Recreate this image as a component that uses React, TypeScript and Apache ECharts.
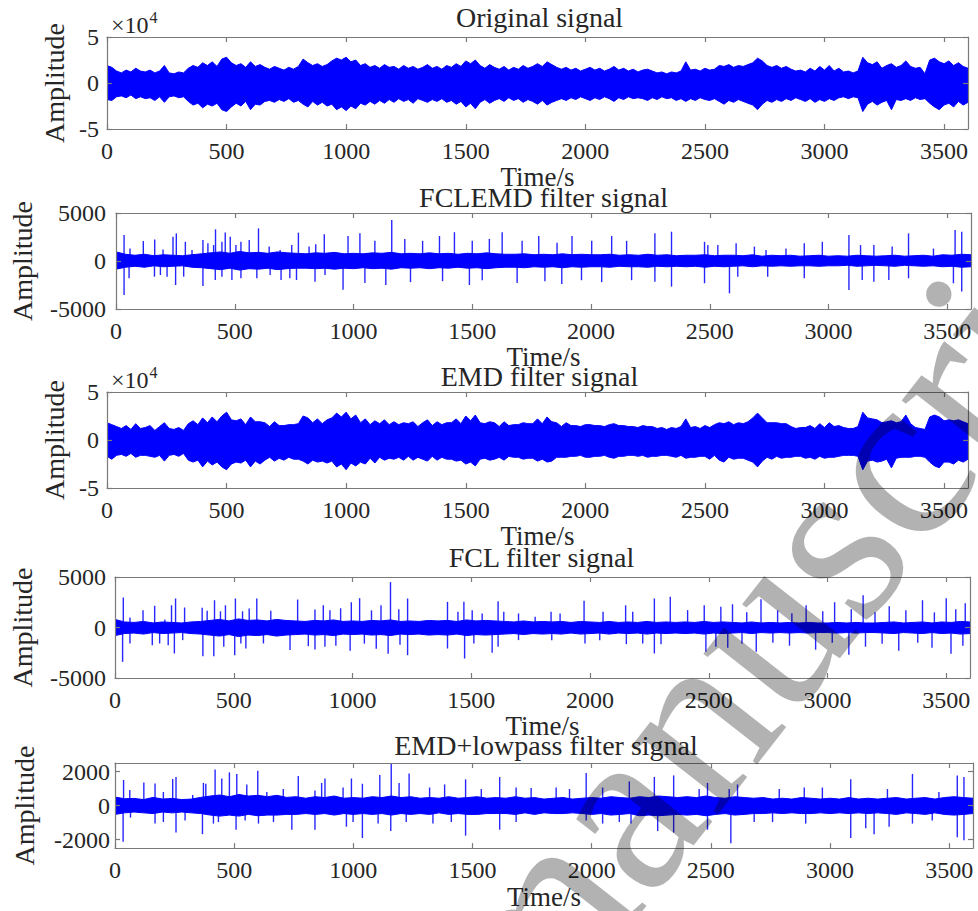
import React, { useEffect, useRef } from "react";
import * as echarts from "echarts";

// ---------------- data ----------------
const titles = [
  "Original signal",
  "FCLEMD filter signal",
  "EMD filter signal",
  "FCL filter signal",
  "EMD+lowpass filter signal",
];
const xName = "Time/s";
const yName = "Amplitude";
const timeMax = 3600;
const xTickValues = [0, 500, 1000, 1500, 2000, 2500, 3000, 3500];
const yTicksE4 = [-5, 0, 5]; // ×10^4
const yTicks5000 = [-5000, 0, 5000];
const yTicks2000 = [-2000, 0, 2000];

// Original signal, units of 1e4, envelope every 20 s
const step20 = 20;
const orig_up = [
  1.9, 1.7, 1.3, 1.1, 1.4, 1.2, 1.6, 1.3, 1.2, 1.4,
  1.1, 1.3, 1.9, 1.1, 1.0, 1.2, 1.1, 1.6, 1.9, 1.7,
  2.2, 1.9, 2.3, 1.8, 2.6, 2.8, 2.2, 1.9, 2.1, 1.7,
  2.3, 1.8, 2.0, 1.7, 1.5, 1.8, 1.6, 1.4, 1.7, 1.5,
  1.8, 2.6, 2.2, 1.9, 2.1, 1.8, 2.0, 2.4, 2.7, 2.5,
  2.8, 2.3, 2.5, 1.9, 2.1, 1.7, 1.9, 1.6, 2.0, 1.7,
  1.8, 1.5, 1.9, 1.6, 1.8, 1.5, 1.7, 2.0, 1.6, 1.8,
  1.5, 1.9, 1.7, 2.1, 1.8, 2.4, 2.1, 2.5, 1.9, 1.6,
  2.0, 1.7, 1.5, 1.8, 1.4, 1.7, 1.5, 1.9, 1.6, 1.8,
  2.1, 1.8, 2.3, 2.0, 1.7, 1.5, 1.7, 1.4, 1.6, 1.3,
  1.5, 1.7, 1.4, 1.6, 1.3, 1.5, 1.8, 1.4, 1.6, 1.3,
  1.5, 1.2, 1.4, 1.5, 1.3, 1.1, 1.2, 1.0, 1.2, 1.1,
  1.3, 2.3, 1.4, 1.5, 1.3, 1.6, 1.4, 1.5, 1.9, 1.8,
  2.0, 1.7, 1.9, 1.8, 2.0, 2.2, 2.7, 2.4, 1.9, 1.7,
  1.9, 1.6, 1.8, 1.5, 1.3, 1.4, 1.2, 1.6, 1.3, 1.8,
  1.4, 1.9, 1.3, 1.6, 1.2, 1.3, 1.1, 1.3, 2.8, 2.2,
  2.0, 2.3, 1.6, 1.9, 2.1, 1.7, 1.9, 2.4, 1.8, 1.6,
  1.7, 1.0, 2.5, 2.7, 2.3, 2.1, 2.4, 1.9, 2.2, 1.8,
  1.6,
];
const orig_lo = [
  -1.8, -1.9, -1.5, -1.4, -1.6, -1.3, -1.7, -1.5, -1.7, -1.6,
  -1.9, -1.5, -2.1, -1.5, -1.4, -1.6, -1.5, -2.0, -2.4, -2.2,
  -2.7, -2.3, -2.5, -2.2, -2.9, -3.1, -2.6, -2.2, -2.5, -2.0,
  -2.9, -2.3, -2.4, -2.0, -1.9, -2.1, -1.8, -2.0, -1.7, -2.1,
  -1.9, -2.3, -2.6, -2.0, -2.4, -2.1, -2.5, -2.3, -2.9, -2.6,
  -3.0, -2.5, -2.8, -2.2, -2.4, -2.0, -2.3, -1.9, -2.2, -1.8,
  -2.1, -1.7, -2.0, -1.8, -2.2, -1.7, -1.9, -2.1, -1.8, -2.0,
  -1.7, -2.1, -1.9, -2.3, -2.0, -2.6, -2.2, -2.8, -2.1, -1.8,
  -2.2, -1.9, -1.7, -2.0, -1.6, -1.9, -1.7, -2.1, -1.8, -2.0,
  -2.3, -1.9, -2.4, -2.1, -1.9, -1.7, -1.9, -1.6, -1.8, -1.5,
  -1.7, -1.9, -1.6, -1.8, -1.5, -1.7, -2.0, -1.6, -1.8, -1.5,
  -1.7, -1.6, -1.7, -1.9, -1.6, -1.8, -1.5, -1.7, -1.6, -1.9,
  -1.7, -2.0, -1.7, -1.9, -1.6, -1.8, -1.9, -1.7, -2.0, -2.3,
  -1.9, -2.1, -1.8, -2.0, -2.2, -2.4, -2.9, -2.3, -1.9, -2.1,
  -1.8, -2.0, -1.7, -1.9, -1.6, -1.8, -2.0, -1.7, -2.1, -1.8,
  -2.0, -1.7, -1.9, -1.6, -1.5, -1.7, -1.5, -1.6, -3.1, -2.3,
  -2.0, -2.4, -2.1, -1.9, -2.9, -1.8, -1.9, -1.7, -1.9, -1.6,
  -1.8, -1.7, -2.2, -2.6, -2.9, -2.4, -2.2, -2.6, -2.0, -2.4,
  -2.1,
];

// EMD filter signal, units of 1e4, envelope every 20 s
const emd_up = [
  1.8, 1.6, 1.4, 1.2, 1.5, 1.1, 1.7, 1.2, 1.3, 1.5,
  1.0, 1.4, 1.8, 1.2, 1.1, 1.3, 1.0, 1.7, 2.0, 1.6,
  2.3, 1.8, 2.4, 1.9, 2.5, 2.9, 2.1, 2.0, 2.2, 1.6,
  2.4, 1.9, 1.9, 1.8, 1.4, 1.9, 1.5, 1.5, 1.6, 1.6,
  1.7, 2.5, 2.3, 1.8, 2.2, 1.7, 2.1, 2.3, 2.8, 2.4,
  2.9, 2.2, 2.6, 1.8, 2.2, 1.6, 2.0, 1.7, 2.1, 1.6,
  1.9, 1.6, 1.8, 1.7, 1.9, 1.4, 1.8, 2.1, 1.5, 1.9,
  1.6, 1.8, 1.8, 2.2, 1.7, 2.5, 2.0, 2.6, 1.8, 1.7,
  1.9, 1.8, 1.4, 1.9, 1.5, 1.6, 1.6, 1.8, 1.7, 1.7,
  2.2, 1.7, 2.4, 1.9, 1.8, 1.4, 1.8, 1.5, 1.5, 1.4,
  1.6, 1.6, 1.5, 1.5, 1.4, 1.6, 1.7, 1.5, 1.5, 1.4,
  1.4, 1.3, 1.5, 1.4, 1.4, 1.2, 1.3, 1.1, 1.3, 1.2,
  1.4, 2.2, 1.3, 1.4, 1.2, 1.5, 1.3, 1.6, 1.8, 1.7,
  1.9, 1.6, 1.8, 1.7, 1.9, 2.3, 2.8, 2.3, 1.8, 1.8,
  1.8, 1.7, 1.7, 1.4, 1.2, 1.3, 1.3, 1.5, 1.2, 1.7,
  1.3, 1.8, 1.4, 1.5, 1.3, 1.2, 1.2, 1.4, 2.9, 2.3,
  2.2, 2.1, 1.8, 1.9, 2.0, 1.8, 1.9, 2.6, 1.7, 1.3,
  1.2, 1.1, 2.4, 2.6, 2.4, 2.0, 2.1, 2.0, 2.1, 1.9,
  1.7,
];
const emd_lo = [
  -1.7, -2.0, -1.6, -1.5, -1.7, -1.4, -1.8, -1.6, -1.6, -1.7,
  -1.8, -1.6, -2.2, -1.6, -1.5, -1.7, -1.4, -2.1, -2.3, -2.1,
  -2.8, -2.2, -2.6, -2.3, -2.8, -3.1, -2.5, -2.3, -2.4, -2.1,
  -2.8, -2.2, -2.5, -2.1, -1.8, -2.2, -1.9, -2.1, -1.8, -2.0,
  -2.0, -2.2, -2.5, -2.1, -2.3, -2.2, -2.4, -2.2, -2.8, -2.5,
  -3.1, -2.4, -2.7, -2.3, -2.5, -1.9, -2.4, -1.8, -2.1, -1.9,
  -2.0, -1.8, -2.1, -1.7, -2.1, -1.8, -2.0, -2.2, -1.7, -2.1,
  -1.8, -2.0, -2.0, -2.2, -2.1, -2.5, -2.3, -2.7, -2.0, -1.9,
  -2.1, -2.0, -1.8, -2.1, -1.7, -1.8, -1.8, -2.0, -1.9, -1.9,
  -2.2, -2.0, -2.3, -2.2, -1.8, -1.8, -1.8, -1.7, -1.7, -1.6,
  -1.8, -1.8, -1.7, -1.7, -1.6, -1.8, -1.9, -1.7, -1.7, -1.6,
  -1.6, -1.7, -1.6, -1.8, -1.7, -1.7, -1.6, -1.6, -1.7, -1.8,
  -1.6, -1.9, -1.8, -1.8, -1.7, -1.7, -2.0, -1.6, -2.1, -2.3,
  -1.8, -2.0, -1.9, -1.9, -2.1, -2.3, -2.8, -2.2, -1.8, -2.0,
  -1.7, -1.9, -1.8, -1.8, -1.7, -1.7, -1.9, -1.8, -2.0, -1.7,
  -1.9, -1.8, -1.8, -1.7, -1.6, -1.6, -1.6, -1.7, -3.1, -2.2,
  -2.1, -2.3, -2.2, -2.0, -2.9, -1.9, -1.8, -1.8, -1.8, -1.7,
  -1.7, -1.8, -2.3, -2.7, -2.9, -2.3, -2.3, -2.5, -2.1, -2.3,
  -2.0,
];

// Filtered signals: core band every 40 s plus individual spikes [time, value]
const step40 = 40;
const fclemd_up = [
  950, 700, 600, 700, 550, 650, 600, 550, 650, 750,
  850, 950, 800, 1000, 850, 900, 800, 950, 850, 800,
  750, 850, 800, 900, 750, 800, 750, 850, 800, 900,
  750, 800, 750, 850, 750, 800, 700, 800, 750, 850,
  750, 700, 700, 750, 650, 700, 650, 750, 650, 700,
  650, 650, 700, 600, 650, 600, 700, 600, 650, 550,
  600, 600, 650, 550, 600, 600, 550, 650, 500, 600,
  550, 600, 500, 550, 600, 500, 550, 500, 600, 550,
  500, 550, 600, 500, 550, 600, 500, 650, 600, 700,
  650,
];
const fclemd_lo = [
  -850, -650, -550, -650, -500, -600, -550, -500, -650, -700,
  -800, -900, -750, -950, -800, -850, -750, -900, -800, -750,
  -750, -800, -750, -850, -750, -800, -700, -800, -750, -850,
  -700, -750, -700, -800, -700, -750, -650, -750, -700, -800,
  -700, -650, -650, -700, -600, -650, -600, -700, -600, -650,
  -600, -600, -650, -550, -600, -600, -650, -550, -600, -550,
  -600, -550, -650, -550, -600, -550, -500, -600, -500, -550,
  -500, -550, -500, -500, -550, -500, -500, -450, -550, -500,
  -450, -500, -550, -450, -500, -550, -500, -600, -550, -650,
  -600,
];
const fclemd_spikes = [
  [34, 2700], [59, 1300], [115, 2080], [163, 2250], [198, 1200], [240, 2530], [254, 2880],
  [292, 2000], [320, 1150], [366, 2190], [387, 1840], [411, 1660], [419, 3300], [446, 2000],
  [460, 2980], [481, 2530], [505, 1660], [526, 2000], [561, 2190], [600, 3400], [645, 1500],
  [691, 1150], [740, 1660], [768, 2950], [813, 1500], [841, 1740], [877, 2780],
  [34, -3540], [55, -1800], [162, -1630], [187, -1460], [215, -1630], [251, -2500], [285, -1630],
  [366, -2600], [418, -1980], [446, -1630], [488, -1980], [526, -1800], [593, -1800], [649, -1460],
  [695, -1980], [732, -1800], [760, -1980], [838, -2150], [880, -1460],
  [977, 2600], [1027, 2900], [1090, 2100], [1161, 4260], [1216, 2300], [1291, 2100], [1362, 2600],
  [1425, 3000], [1500, 2100], [1572, 2300], [1626, 3000], [1710, 2100], [1780, 2600], [1857, 1900],
  [1920, 2600], [2003, 2100], [2087, 2600], [2150, 2100],
  [956, -3000], [1048, -2300], [1136, -2500], [1240, -2200], [1375, -2100], [1488, -2500],
  [1542, -2000], [1689, -2300], [1806, -2100], [1877, -2400], [1960, -2000], [2045, -2200], [2171, -2000],
  [2269, 2880], [2339, 3050], [2478, 2000], [2492, 1660], [2534, 1660], [2611, 1840], [2688, 1500],
  [2737, 1150], [2821, 1300], [2898, 1840], [2974, 2000], [3086, 2700], [3135, 1660], [3191, 1660],
  [3268, 1500], [3337, 2880], [3442, 1300], [3533, 3230], [3561, 3050],
  [2269, -2150], [2339, -2670], [2478, -2320], [2583, -3370], [2618, -1630], [2744, -1630],
  [2898, -1800], [3086, -3020], [3142, -1980], [3191, -2150], [3254, -1980], [3337, -1800],
  [3526, -2320], [3561, -3190],
];

const fcl_up = [
  800, 550, 500, 600, 450, 550, 500, 450, 550, 600,
  700, 800, 650, 850, 700, 750, 650, 800, 700, 650,
  600, 700, 650, 750, 600, 650, 600, 700, 650, 750,
  600, 650, 600, 700, 650, 700, 600, 750, 650, 700,
  650, 600, 550, 650, 550, 600, 550, 600, 500, 600,
  550, 500, 600, 500, 550, 500, 600, 500, 550, 500,
  550, 500, 600, 500, 550, 500, 450, 550, 450, 500,
  450, 500, 450, 500, 450, 450, 500, 450, 500, 450,
  450, 500, 550, 450, 500, 550, 450, 550, 500, 600,
  550,
];
const fcl_lo = [
  -800, -600, -550, -650, -500, -600, -550, -500, -600, -650,
  -750, -850, -700, -900, -750, -800, -700, -850, -750, -700,
  -650, -750, -700, -800, -650, -700, -650, -750, -700, -800,
  -650, -700, -650, -750, -700, -750, -650, -800, -700, -750,
  -700, -650, -600, -700, -600, -650, -600, -650, -550, -650,
  -600, -550, -650, -550, -600, -550, -650, -550, -600, -550,
  -600, -550, -650, -550, -600, -550, -500, -600, -500, -550,
  -500, -550, -500, -550, -500, -500, -550, -500, -550, -500,
  -500, -550, -600, -500, -550, -600, -500, -600, -550, -650,
  -600,
];
const fcl_spikes = [
  [35, 2970], [63, 1000], [118, 1700], [167, 2150], [210, 800], [238, 2200], [255, 2870],
  [293, 1980], [367, 1950], [388, 1650], [419, 2700], [444, 1600], [465, 2200], [507, 2870],
  [537, 1600], [565, 1880], [597, 2870], [656, 1650], [769, 2770], [842, 1780], [877, 2200], [905, 1700],
  [32, -3400], [63, -1580], [157, -1750], [188, -1580], [224, -1750], [250, -2570], [285, -1250],
  [370, -2840], [416, -2840], [458, -1910], [504, -2740], [530, -1580], [551, -2080], [625, -1580],
  [737, -2240], [814, -1850], [842, -2180], [884, -1910],
  [950, 1900], [995, 2500], [1030, 2900], [1080, 1700], [1120, 2200], [1160, 4500], [1195, 1800],
  [930, -1800], [990, -2300], [1050, -1600], [1100, -2100], [1150, -2600], [1200, -1700],
  [1232, 2870], [1400, 2540], [1444, 1550], [1469, 2540], [1504, 1720], [1546, 1390], [1613, 2600],
  [1637, 1550], [1699, 1390], [1769, 1060], [1836, 1550], [1874, 1390], [1975, 2640], [2055, 1550],
  [2150, 2200], [2180, 1550], [2271, 2870], [2338, 3040], [2411, 1720], [2481, 2200], [2551, 2050],
  [1232, -2740], [1400, -2080], [1472, -3070], [1511, -1580], [1588, -2500], [1613, -1910],
  [1699, -1250], [1839, -1250], [1979, -1580], [2041, -1250], [2153, -1650], [2222, -1580],
  [2271, -2570], [2299, -1650], [2488, -2400], [2530, -1910],
  [2600, 2300], [2660, 1500], [2720, 2800], [2790, 1700], [2850, 1400], [2910, 2200], [2980, 1600],
  [3030, 2500], [3100, 1800], [3150, 3200], [3200, 1500], [3260, 2100], [3330, 1700], [3400, 2700],
  [3450, 1500], [3500, 2900], [3540, 1800], [3580, 2400],
  [2580, -2000], [2640, -1600], [2700, -2400], [2770, -1500], [2840, -1800], [2950, -2200],
  [3020, -1500], [3090, -2700], [3160, -1900], [3230, -1600], [3300, -2300], [3380, -1500],
  [3440, -2000], [3520, -2600], [3570, -1800],
];

const lowpass_up = [
  500, 400, 420, 350, 480, 380, 420, 350, 380, 480,
  560, 620, 520, 650, 560, 600, 520, 600, 480, 520,
  430, 520, 470, 560, 430, 470, 430, 520, 470, 560,
  470, 520, 430, 470, 430, 520, 430, 470, 520, 430,
  470, 430, 520, 430, 470, 380, 430, 470, 380, 430,
  470, 430, 520, 470, 430, 520, 470, 560, 520, 470,
  520, 470, 560, 470, 430, 520, 470, 430, 470, 380,
  430, 380, 470, 430, 380, 430, 380, 470, 380, 430,
  380, 430, 470, 380, 430, 470, 380, 470, 520, 470,
  430,
];
const lowpass_lo = [
  -520, -430, -380, -430, -470, -380, -430, -380, -430, -470,
  -560, -620, -560, -620, -520, -600, -560, -560, -520, -520,
  -470, -520, -470, -560, -470, -520, -470, -520, -470, -560,
  -470, -520, -470, -520, -430, -520, -470, -520, -520, -470,
  -470, -470, -520, -430, -520, -430, -470, -470, -430, -470,
  -520, -470, -560, -520, -470, -600, -560, -600, -560, -520,
  -560, -520, -600, -520, -470, -560, -520, -470, -470, -430,
  -470, -430, -470, -470, -430, -470, -430, -470, -430, -470,
  -430, -470, -520, -430, -470, -520, -430, -520, -560, -520,
  -470,
];
const lowpass_spikes = [
  [36, 1500], [62, 920], [121, 1360], [168, 1290], [203, 800], [242, 1560], [256, 1680],
  [326, 620], [371, 1330], [381, 1280], [420, 2120], [448, 1590], [480, 1950], [511, 1860],
  [553, 1240], [599, 2040], [637, 800], [706, 970], [769, 1730], [839, 880], [867, 1330], [881, 1590],
  [34, -2120], [65, -710], [168, -1060], [203, -970], [256, -1590], [294, -880], [367, -1680],
  [413, -1060], [434, -970], [508, -1420], [546, -880], [602, -1060], [665, -970], [742, -1420], [839, -1420],
  [957, 1060], [992, 1590], [1038, 1280], [1111, 1800], [1159, 2440], [1192, 1330], [1234, 1890],
  [1320, 1060], [1383, 1240], [1471, 1540], [1537, 970], [1614, 1680], [1683, 1060], [1746, 1030],
  [1851, 1060], [1907, 970], [1977, 1910], [2046, 1060], [2158, 1420], [2263, 1680],
  [971, -1240], [999, -970], [1038, -1910], [1104, -1060], [1157, -1500], [1222, -970], [1334, -1060],
  [1411, -970], [1471, -1770], [1614, -1420], [1683, -970], [1977, -880], [2046, -1060], [2116, -970],
  [2165, -1060], [2277, -1500],
  [2344, 1770], [2451, 970], [2486, 1330], [2577, 970], [2612, 1240], [2787, 970], [2892, 1060],
  [2968, 1060], [3087, 1540], [3241, 970], [3346, 1860], [3457, 800], [3534, 1770], [3562, 1680],
  [2344, -1590], [2486, -1420], [2584, -2210], [2682, -970], [2759, -970], [2898, -1060],
  [3087, -1910], [3150, -1330], [3185, -1680], [3248, -1240], [3346, -1060], [3429, -880],
  [3534, -1860], [3562, -2040],
];

// ---------------- layout / style ----------------
const FONT = "Liberation Serif";
const TXT = "#262626";
const AXC = "#7a7a7a";
const BLUE = "#0000ff";

const panels = [
  { left: 107, top: 37, width: 861, height: 92, ymin: -5, ymax: 5, yt: yTicksE4, ylm: 8, yGap: 34, titleBase: 27, xGap: 30, up: orig_up, lo: orig_lo, step: step20, spikes: null, exp: true },
  { left: 112, top: 213, width: 859, height: 96, ymin: -5000, ymax: 5000, yt: yTicks5000, ylm: 10, yGap: 80, titleBase: 207, xGap: 30, up: fclemd_up, lo: fclemd_lo, step: step40, spikes: fclemd_spikes, exp: false },
  { left: 107, top: 392, width: 861, height: 96, ymin: -5, ymax: 5, yt: yTicksE4, ylm: 8, yGap: 34, titleBase: 386, xGap: 30, up: emd_up, lo: emd_lo, step: step20, spikes: null, exp: true },
  { left: 109, top: 577, width: 861, height: 101, ymin: -5000, ymax: 5000, yt: yTicks5000, ylm: 9, yGap: 79, titleBase: 567, xGap: 30, up: fcl_up, lo: fcl_lo, step: step40, spikes: fcl_spikes, exp: false },
  { left: 115, top: 763, width: 858, height: 94, ymin: -2500, ymax: 2500, yt: yTicks2000, ylm: 5, yGap: 77, titleBase: 755, xGap: 27, up: lowpass_up, lo: lowpass_lo, step: step40, spikes: lowpass_spikes, exp: false },
];

const plain = (v: number) => String(v);

function buildOption() {
  const grid: any[] = [];
  const xAxis: any[] = [];
  const yAxis: any[] = [];
  const series: any[] = [];
  const graphic: any[] = [];
  const lineStyle = { color: AXC, width: 1.2 };

  panels.forEach((p, i) => {
    grid.push({ left: p.left, top: p.top, width: p.width, height: p.height, containLabel: false, show: false });
    const baseX = {
      gridIndex: i, type: "value", min: 0, max: timeMax, interval: 500, z: 10,
      axisLine: { show: true, onZero: false, lineStyle },
      axisTick: { show: true, inside: true, length: 5, lineStyle, customValues: xTickValues },
      splitLine: { show: false },
    };
    xAxis.push({
      ...baseX, position: "bottom",
      axisLabel: { show: true, margin: 10, fontFamily: FONT, fontSize: 24, color: TXT, customValues: xTickValues, formatter: plain },
      name: xName, nameLocation: "middle", nameGap: p.xGap,
      nameTextStyle: { fontFamily: FONT, fontSize: 27, color: TXT },
    });
    xAxis.push({ ...baseX, position: "top", axisLabel: { show: false } });
    const baseY = {
      gridIndex: i, type: "value", min: p.ymin, max: p.ymax, z: 10,
      axisLine: { show: true, onZero: false, lineStyle },
      axisTick: { show: true, inside: true, length: 5, lineStyle, customValues: p.yt },
      splitLine: { show: false },
    };
    yAxis.push({
      ...baseY, position: "left",
      axisLabel: { show: true, margin: p.ylm, fontFamily: FONT, fontSize: 24, color: TXT, customValues: p.yt, formatter: plain },
      name: yName, nameLocation: "middle", nameGap: p.yGap, nameRotate: 90,
      nameTextStyle: { fontFamily: FONT, fontSize: 28, color: TXT },
    });
    yAxis.push({ ...baseY, position: "right", axisLabel: { show: false } });

    const band = (arr: number[], origin: number) => ({
      type: "line", xAxisIndex: 2 * i, yAxisIndex: 2 * i, silent: true,
      data: arr.map((v, k) => [k * p.step, v]),
      symbol: "none", showSymbol: false,
      lineStyle: { color: BLUE, width: 1 },
      areaStyle: { color: BLUE, opacity: 1, origin },
      z: 2,
    });
    const eps = (p.ymax - p.ymin) * 0.02;
    series.push(band(p.up, -eps));
    series.push(band(p.lo, eps));
    if (p.spikes) {
      series.push({
        type: "bar", xAxisIndex: 2 * i, yAxisIndex: 2 * i, silent: true,
        data: p.spikes, barWidth: 1.4, barGap: "-100%",
        itemStyle: { color: "rgba(0,0,255,0.85)" }, z: 3,
      });
    }

    graphic.push({
      type: "text", x: p.left + p.width / 2 + 2, y: p.titleBase - 9.5, silent: true,
      style: { text: titles[i], fontFamily: FONT, fontSize: 28, fill: TXT, align: "center", textAlign: "center", verticalAlign: "middle", textVerticalAlign: "middle" },
    });
    if (p.exp) {
      graphic.push({
        type: "text", x: 111, y: p.top - 12.5, silent: true,
        style: { text: "×10", fontFamily: FONT, fontSize: 24, fill: TXT, align: "left", textAlign: "left", verticalAlign: "middle", textVerticalAlign: "middle" },
      });
      graphic.push({
        type: "text", x: 149.5, y: p.top - 20, silent: true,
        style: { text: "4", fontFamily: FONT, fontSize: 16, fill: TXT, align: "left", textAlign: "left", verticalAlign: "middle", textVerticalAlign: "middle" },
      });
    }
  });

  // watermark
  graphic.push({
    type: "text", x: 470, y: 1000, rotation: (52 * Math.PI) / 180, silent: true, z: 100,
    style: { text: "manuscript", fontFamily: FONT, fontSize: 240, fill: "rgba(0,0,0,0.3)", align: "left", textAlign: "left", verticalAlign: "middle", textVerticalAlign: "middle" },
  });

  return { animation: false, backgroundColor: "#ffffff", grid, xAxis, yAxis, series, graphic };
}

export default function App() {
  const ref = useRef<HTMLDivElement>(null);
  useEffect(() => {
    if (!ref.current) return;
    const chart = echarts.init(ref.current, null, { renderer: "svg" });
    chart.setOption(buildOption() as any);
    return () => chart.dispose();
  }, []);
  return (
    <div
      ref={ref}
      style={{ position: "fixed", left: 0, top: 0, width: 978, height: 911, background: "#fff" }}
    />
  );
}
